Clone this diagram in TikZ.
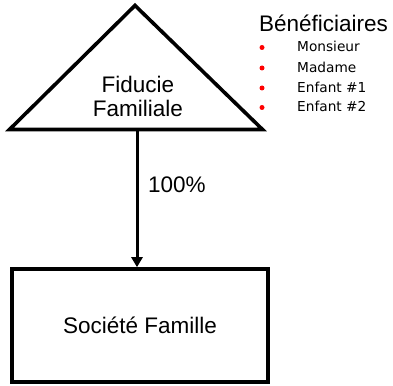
\documentclass[tikz,border=0pt]{standalone}
\usepackage{fontspec}
\setmainfont{Liberation Sans}
\newfontfamily\listfont{DejaVu Sans}
\usetikzlibrary{arrows.meta}
\tikzset{
  bigtext/.style={font=\fontsize{22.5}{24}\selectfont},
  listtext/.style={font=\listfont\fontsize{13.7}{16}\selectfont, anchor=base west, inner sep=0pt},
}
\begin{document}
\begin{tikzpicture}[x=1pt, y=-1pt, >={Triangle[width=11pt,length=10pt]}]
  \useasboundingbox (0,0) rectangle (393,385);
  % fiducie
  \coordinate (apex) at (135,5.5);
  \coordinate (baseL) at (9.5,129.5);
  \coordinate (baseR) at (262.5,129.5);
  \coordinate (baseM) at (137,131);
  \draw[line width=3.6pt, line join=miter] (apex) -- (baseL) -- (baseR) -- cycle;
  \node[bigtext, align=center] (fiducie) at (138,96) {Fiducie\\Familiale};
  % societe
  \node[draw, line width=3.6pt, minimum width=256pt, minimum height=113pt, bigtext] (societe) at (140,325.5) {Société Famille};
  \draw[->, line width=3pt] (baseM) -- (societe.north -| baseM);
  \node[bigtext, anchor=base west, inner sep=0pt] (pct) at (148,192) {100\%};
  % beneficiaires
  \node[bigtext, anchor=base west, inner sep=0pt] (benef) at (259,32) {Bénéficiaires};
  \foreach \y/\nom in {52/Monsieur, 72.5/Madame, 92.5/{Enfant \#1}, 112/{Enfant \#2}} {
    \fill[red] (262,\y-4.5) circle (2.5pt);
    \node[listtext] at (297,\y) {\nom};
  }
\end{tikzpicture}
\end{document}
